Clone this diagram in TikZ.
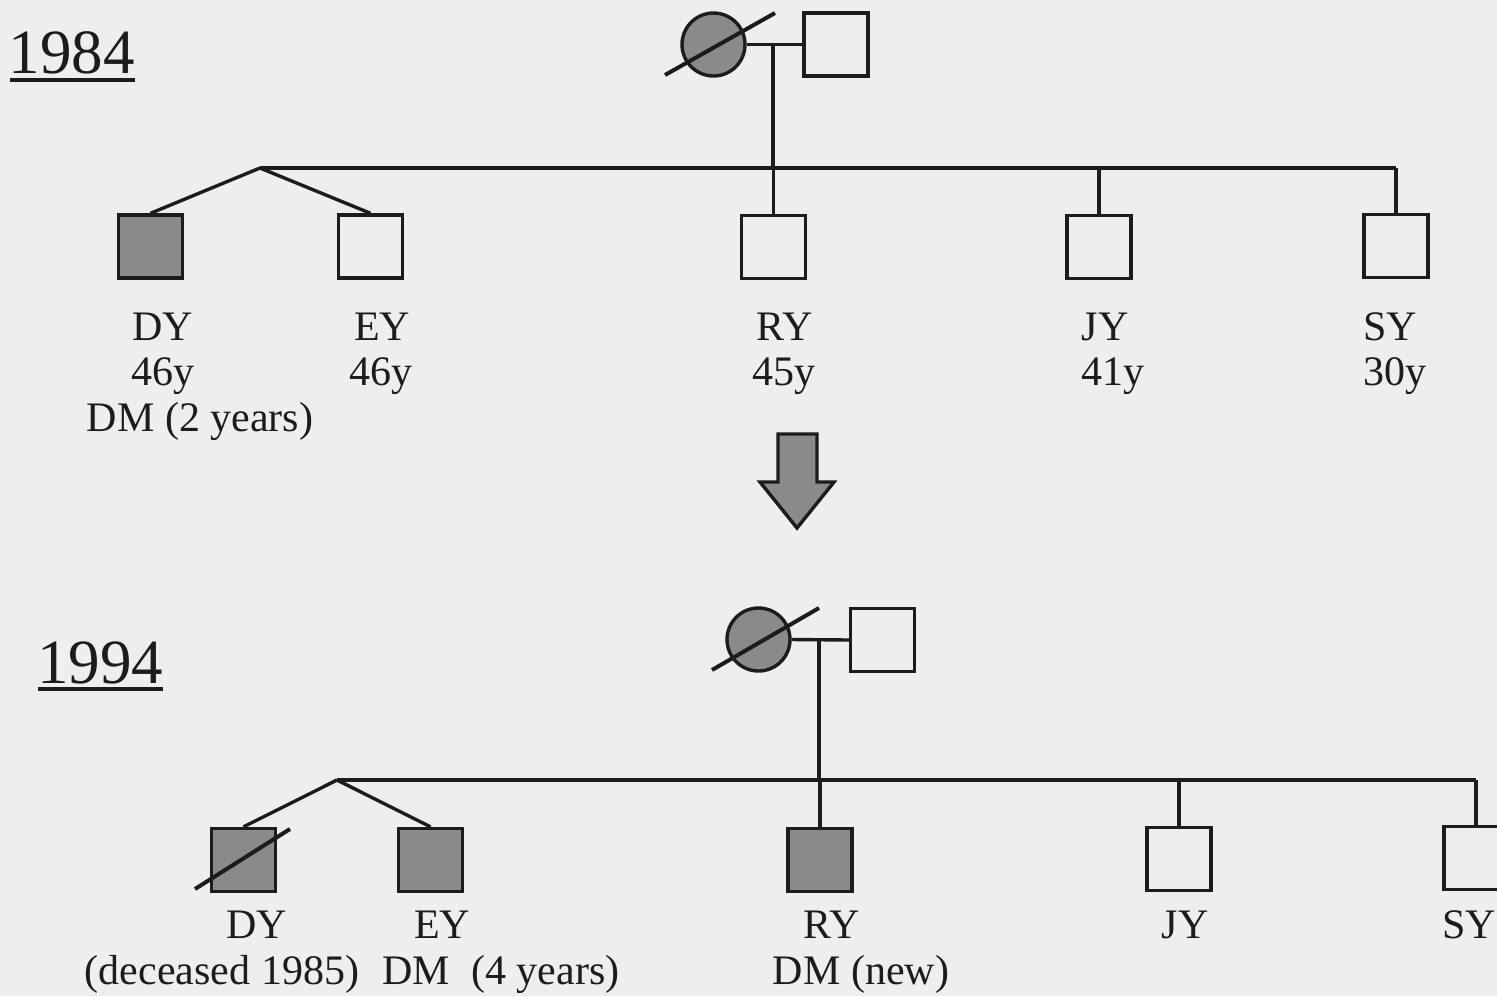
\documentclass[tikz,border=0pt]{standalone}
\usepackage{fontspec}
\setmainfont{Liberation Serif}
\definecolor{bg}{HTML}{EEEEEE}
\definecolor{ink}{HTML}{1C1C1C}
\definecolor{aff}{HTML}{8A8A8A}
\tikzset{
  lw/.style={line width=1.7pt, draw=ink},
  male/.style={lw, rectangle, minimum width=32pt, minimum height=31.5pt, inner sep=0pt, fill=bg},
  female/.style={lw, circle, minimum size=31.5pt, inner sep=0pt},
  affected/.style={fill=aff},
  lbl/.style={font=\fontsize{21pt}{25pt}\selectfont, anchor=base, inner sep=0pt, text=ink},
  yr/.style={font=\fontsize{31.5pt}{36pt}\selectfont, anchor=base, inner sep=0pt, text=ink},
  conn/.style={lw},
  deadline/.style={line width=2pt, draw=ink}
}
\begin{document}
\begin{tikzpicture}[x=0.5pt,y=-0.5pt]
\fill[bg] (0,0) rectangle (1497,996);
\useasboundingbox (0,0) rectangle (1497,996);

% ---------- 1984 ----------
\node[yr] (y84) at (72,73) {1984};
\draw[conn] (10,80) -- (135,80);

\node[female, affected] (m1) at (713.5,44.5) {};
\node[male] (f1) at (836,44.5) {};
\draw[deadline] (665,75) -- (775,13);
\draw[conn] (m1.east) -- (f1.west);
\coordinate (mc1) at (773,44.5);
\coordinate (tw1) at (260,168);
\coordinate (se1) at (1396,168);
\draw[conn] (mc1) -- (mc1 |- tw1);
\draw[conn] (tw1) -- (se1);

\node[male, affected] (dy1) at (150.5,246.5) {};
\node[male] (ey1) at (370.5,246.5) {};
\node[male] (ry1) at (773.5,247) {};
\node[male] (jy1) at (1099,247) {};
\node[male] (sy1) at (1396,246) {};
\draw[conn] (tw1) -- (dy1.north);
\draw[conn] (tw1) -- (ey1.north);
\draw[conn] (ry1.north) -- (ry1.north |- tw1);
\draw[conn] (jy1.north) -- (jy1.north |- tw1);
\draw[conn] (sy1.north) -- (se1);

\node[lbl] (dy1n) at (163,340) {DY};
\node[lbl] (dy1a) at (163,385) {46y};
\node[lbl] (dy1d) at (200,431) {DM (2 years)};
\node[lbl] (ey1n) at (382,340) {EY};
\node[lbl] (ey1a) at (381,385) {46y};
\node[lbl] (ry1n) at (785,340) {RY};
\node[lbl] (ry1a) at (784,385) {45y};
\node[lbl] (jy1n) at (1105,340) {JY};
\node[lbl] (jy1a) at (1113,385) {41y};
\node[lbl] (sy1n) at (1390,340) {SY};
\node[lbl] (sy1a) at (1395,385) {30y};

% ---------- arrow ----------
\filldraw[lw, fill=aff] (778,434) -- (817,434) -- (817,482) -- (834,482) -- (797,528) -- (760,482) -- (778,482) -- cycle;

% ---------- 1994 ----------
\node[yr] (y94) at (100,683) {1994};
\draw[conn] (38,689) -- (163,689);

\node[female, affected] (m2) at (758.5,639.5) {};
\node[male] (f2) at (882.5,640) {};
\draw[deadline] (712,670) -- (819,608);
\draw[conn] (m2.east) -- (f2.west);
\coordinate (mc2) at (819,639.5);
\coordinate (tw2) at (337,780);
\coordinate (se2) at (1476,780);
\draw[conn] (mc2) -- (mc2 |- tw2);
\draw[conn] (tw2) -- (se2);

\node[male, affected] (dy2) at (243.5,860) {};
\node[male, affected] (ey2) at (430.5,860) {};
\node[male, affected] (ry2) at (820,860) {};
\node[male] (jy2) at (1179,859) {};
\node[male] (sy2) at (1476,858) {};
\draw[deadline] (195,889) -- (290,829);
\draw[conn] (tw2) -- (dy2.north);
\draw[conn] (tw2) -- (ey2.north);
\draw[conn] (ry2.north) -- (ry2.north |- tw2);
\draw[conn] (jy2.north) -- (jy2.north |- tw2);
\draw[conn] (sy2.north) -- (se2);

\node[lbl] (dy2n) at (257,938) {DY};
\node[lbl] (dy2d) at (222,984) {(deceased 1985)};
\node[lbl] (ey2n) at (442,938) {EY};
\node[lbl] (ey2d) at (501,984) {DM\ \ (4 years)};
\node[lbl] (ry2n) at (832,938) {RY};
\node[lbl] (ry2d) at (861,984) {DM (new)};
\node[lbl] (jy2n) at (1185,938) {JY};
\node[lbl] (sy2n) at (1469,938) {SY};
\end{tikzpicture}
\end{document}
